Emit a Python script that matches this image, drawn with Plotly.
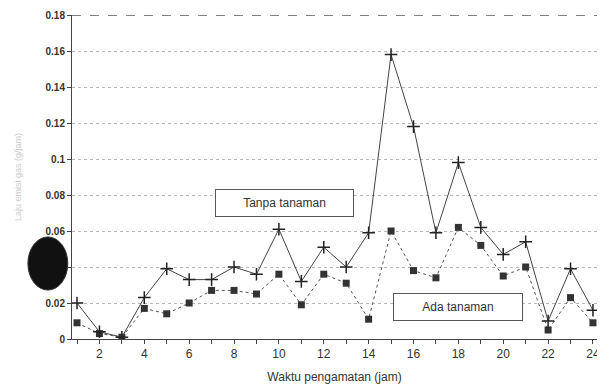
import plotly.graph_objects as go

jam = list(range(1, 25))
tanpa_tanaman = [0.020, 0.004, 0.001, 0.023, 0.039, 0.033, 0.033, 0.040, 0.036, 0.061,
                 0.032, 0.051, 0.040, 0.059, 0.158, 0.118, 0.059, 0.098, 0.062, 0.047,
                 0.054, 0.010, 0.039, 0.016]
ada_tanaman = [0.009, 0.003, 0.001, 0.017, 0.014, 0.020, 0.027, 0.027, 0.025, 0.036,
               0.019, 0.036, 0.031, 0.011, 0.060, 0.038, 0.034, 0.062, 0.052, 0.035,
               0.040, 0.005, 0.023, 0.009]
x_ticks = list(range(1, 25))
x_labels = [str(v) if v % 2 == 0 else "" for v in x_ticks]
y_ticks = [0, 0.02, 0.04, 0.06, 0.08, 0.1, 0.12, 0.14, 0.16, 0.18]
y_labels = ["0", "0.02", "0.04", "0.06", "0.08", "0.1", "0.12", "0.14", "0.16", "0.18"]

fig = go.Figure()
fig.add_trace(go.Scatter(
    x=jam, y=ada_tanaman, mode="lines+markers", name="Ada tanaman",
    line=dict(color="#555555", width=1, dash="dot"),
    marker=dict(symbol="square", size=7, color="#333333"),
))
fig.add_trace(go.Scatter(
    x=jam, y=tanpa_tanaman, mode="lines+markers", name="Tanpa tanaman",
    line=dict(color="#444444", width=1),
    marker=dict(symbol="cross-thin", size=9, line=dict(color="#222222", width=1.5)),
))

fig.add_shape(type="line", xref="paper", yref="y", x0=0, x1=1, y0=0.18, y1=0.18,
              line=dict(color="#555555", width=1.5, dash="dash"))
# dark blot from the scanned page
fig.add_shape(type="circle", xref="paper", yref="paper",
              x0=-0.084, x1=-0.008, y0=0.151, y1=0.315,
              fillcolor="#111111", line=dict(color="#333333", width=1))

fig.add_annotation(x=10.26, y=0.0756, text="Tanpa tanaman", showarrow=False,
                   font=dict(family="Liberation Sans, Arial", size=12, color="#333333"),
                   bordercolor="#555555", borderwidth=1, borderpad=6, width=125,
                   bgcolor="white")
fig.add_annotation(x=17.97, y=0.0178, text="Ada tanaman", showarrow=False,
                   font=dict(family="Liberation Sans, Arial", size=12, color="#333333"),
                   bordercolor="#555555", borderwidth=1, borderpad=6, width=116,
                   bgcolor="white")

fig.update_layout(
    width=597, height=379,
    margin=dict(l=64, r=8, t=7, b=48),
    paper_bgcolor="white", plot_bgcolor="white",
    showlegend=False,
    font=dict(family="Liberation Sans, Arial", size=11, color="#333333"),
)
fig.update_xaxes(
    range=[0.777, 24.18], tickmode="array", tickvals=x_ticks, ticktext=x_labels,
    ticks="outside", ticklen=4, tickcolor="#444444", showline=True, linecolor="#444444",
    linewidth=1, showgrid=False, zeroline=False, automargin=False,
    title=dict(text="Waktu pengamatan (jam)", font=dict(size=12, color="#333333"), standoff=12),
    tickfont=dict(size=12, color="#333333"),
)
fig.update_yaxes(
    range=[0, 0.18], tickmode="array", tickvals=y_ticks,
    ticktext=["<b>" + t + "</b>" for t in y_labels],
    ticks="outside", ticklen=4, tickcolor="#444444", showline=True, linecolor="#444444",
    linewidth=1, showgrid=True, gridcolor="#b5b5b5", griddash="dot", gridwidth=1,
    zeroline=False, automargin=False,
    title=dict(text="Laju emisi gas (g/jam)", font=dict(size=9, color="#cccccc"), standoff=22),
    tickfont=dict(size=10, color="#333333", family="Liberation Sans, Arial"),
)

fig.write_html("out.html")
